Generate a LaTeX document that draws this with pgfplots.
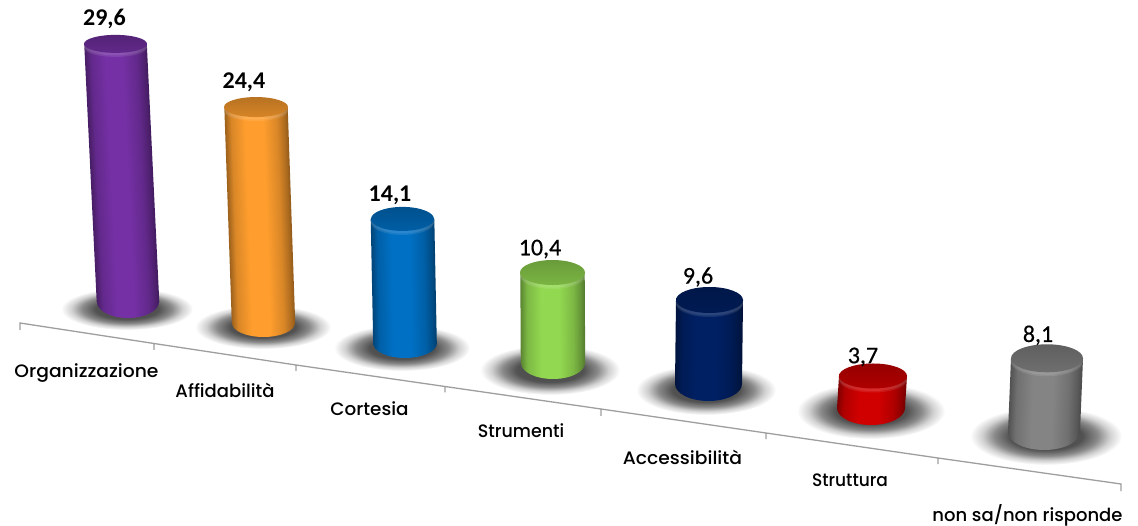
\documentclass[border=0pt]{standalone}
\usepackage{fontspec}
\usepackage{pgfplots}
\pgfplotsset{compat=1.18}
\newfontfamily\catfont{Poppins Medium}
\newfontfamily\valfont{Carlito}[BoldFont=Carlito Bold]
\newfontfamily\valmed{Carlito}[FakeBold=0.5]
\newcommand\catstyle{\catfont\fontsize{18}{18}\selectfont}

\definecolor{cPurple}{HTML}{7430A4}
\definecolor{cOrange}{HTML}{FF9E2E}
\definecolor{cBlue}{HTML}{0070C4}
\definecolor{cGreen}{HTML}{92D850}
\definecolor{cNavy}{HTML}{002064}
\definecolor{cRed}{HTML}{D00000}
\definecolor{cGray}{HTML}{848484}

% Soft floor shadow under a cylinder
\pgfdeclareradialshading{floorshadow}{\pgfpointorigin}{%
  color(0bp)=(black!72); color(12bp)=(black!68); color(17bp)=(black!46);
  color(21bp)=(black!18); color(25bp)=(white); color(50bp)=(white)}

% Horizontal shading across a cylinder
\newcommand\defbodyshading[2]{%
  \pgfdeclarehorizontalshading{#1}{100bp}{%
    color(0bp)=(#2!62!black); color(25bp)=(#2!62!black);
    color(30bp)=(#2!85!black); color(41bp)=(#2); color(55bp)=(#2);
    color(66bp)=(#2!85!black); color(72bp)=(#2!68!black);
    color(75bp)=(#2!56!black); color(100bp)=(#2!56!black)}}

% #1 name, #2 colour, #3 #4 foot radii, #5 #6 cap radii, #7 #8 shadow radii
\newcommand\defcylinder[8]{%
  \defbodyshading{body#1}{#2}%
  \pgfdeclareverticalshading{face#1}{100bp}{%
    color(0bp)=(#2!84!black); color(25bp)=(#2!84!black);
    color(75bp)=(#2!72!black); color(100bp)=(#2!72!black)}%
  \pgfdeclareplotmark{shadow#1}{%
    \shade[draw=none, shading=floorshadow] (0,0) ellipse [x radius=#7pt, y radius=#8pt];}%
  \pgfdeclareplotmark{foot#1}{%
    \shade[draw=none, shading=body#1] (0,0) ellipse [x radius=#3pt, y radius=#4pt];}%
  \pgfdeclareplotmark{cap#1}{%
    \fill[draw=none, white, opacity=.09] (0,-4pt) ellipse [x radius=#5pt, y radius=#6pt];
    \fill[draw=none, white, opacity=.09] (0,-2.5pt) ellipse [x radius=#5pt, y radius=#6pt];
    \shade[draw=none, shading=face#1] (0,0) ellipse [x radius=#5pt, y radius=#6pt];}%
}

\defcylinder{A}{cPurple}{31}{16}{31.5}{9}{66}{21}
\defcylinder{B}{cOrange}{31.5}{14}{32}{10}{68}{22}
\defcylinder{C}{cBlue}{32}{15}{31.5}{12}{68}{23}
\defcylinder{D}{cGreen}{32}{16}{32.5}{12.5}{70}{25}
\defcylinder{E}{cNavy}{33.5}{17}{33.5}{13}{70}{25}
\defcylinder{F}{cRed}{34}{17}{34}{12.5}{74}{28}
\defcylinder{G}{cGray}{36}{18}{36}{14}{76}{29}

% #1 name, #2 value, #3 value as printed, #4 #5 foot centre, #6 cap centre x,
% #7 height per unit, #8 #9 offset of the value label from the cap centre;
% \rfoot holds the half width, \valw the font of the value label.
% The body is an upright rectangle slanted as a whole, so that its shading leans
% with it; the slant pivots on the axis's y = 0.
\newcommand\cylinder[9]{%
  \pgfmathsetmacro\ytop{#5-#2*#7}%
  \pgfmathsetmacro\slant{(#6-#4)/(#5-\ytop)}%
  \pgfmathsetmacro\xm{#4+\slant*#5}%
  \pgfmathsetmacro\xa{\xm-\rfoot}\pgfmathsetmacro\xb{\xm+\rfoot}%
  \pgfmathsetmacro\lx{#6+#8}\pgfmathsetmacro\ly{\ytop+#9}%
  \addplot[only marks, mark=foot#1] coordinates {(#4,#5)};
  \edef\tmp{\noexpand\addplot[shading=body#1, draw=none, mark=none,
      transform canvas={xslant=\slant}] coordinates
    {(\xa,#5) (\xb,#5) (\xb,\ytop) (\xa,\ytop) (\xa,#5)};}\tmp
  \addplot[only marks, mark=cap#1] coordinates {(#6,\ytop)};
  \edef\tmp{\noexpand\node[font=\valw\noexpand\fontsize{24}{24}\noexpand\selectfont,
    text=black, inner sep=0pt] at (axis cs:\lx,\ly) {#3};}\tmp
}

\begin{document}
\begin{tikzpicture}
\useasboundingbox (0,0) rectangle (1138pt,526pt);
\begin{axis}[
  at={(0,0)}, anchor=south west,
  scale only axis, width=1138pt, height=526pt,
  xmin=0, xmax=1138, ymin=0, ymax=526, y dir=reverse,
  hide axis, clip=false, clip mode=individual,
]
  % floor shadows
  \addplot[only marks, mark=shadowA] coordinates {(127,309)};
  \addplot[only marks, mark=shadowB] coordinates {(263,327)};
  \addplot[only marks, mark=shadowC] coordinates {(402,348)};
  \addplot[only marks, mark=shadowD] coordinates {(550,370)};
  \addplot[only marks, mark=shadowE] coordinates {(706,390)};
  \addplot[only marks, mark=shadowF] coordinates {(871,411)};
  \addplot[only marks, mark=shadowG] coordinates {(1046,436)};

  % category axis with its tick marks
  \addplot[color=black!38, line width=1.3pt, mark=none] coordinates {
    (20,330) (20,323) (154,343.5) (154,350) (154,343.5)
    (296,365) (296,371) (296,365) (445,386.5) (445,392.5) (445,386.5)
    (601,409) (601,416) (601,409) (766,433) (766,439) (766,433)
    (938,458) (938,464) (938,458) (1121,484) (1121,491)};

  % bars
  \def\valw{\noexpand\valfont\noexpand\bfseries}
  \def\rfoot{31.3}
  \cylinder{A}{29.6}{29,6}{128}{302}{115.5}{8.72}{-11}{-25}
  \def\rfoot{31.7}
  \cylinder{B}{24.4}{24,4}{263.5}{323}{256}{8.85}{-12}{-25}
  \def\rfoot{31.8}
  \cylinder{C}{14.1}{14,1}{405}{343}{402.5}{8.8}{-12.5}{-24}
  \def\valw{\noexpand\valmed}
  \def\rfoot{32.2}
  \cylinder{D}{10.4}{10,4}{553}{363}{552.5}{8.7}{-12.5}{-23.5}
  \def\rfoot{33.5}
  \cylinder{E}{9.6}{9,6}{708.5}{384}{709.5}{8.75}{-11.5}{-23}
  \def\rfoot{34}
  \cylinder{F}{3.7}{3,7}{871}{408}{873}{8.65}{-10}{-19}
  \def\rfoot{36}
  \cylinder{G}{8.1}{8,1}{1044}{432}{1047}{9.1}{-9}{-23}

  % category names
  \node[font=\catstyle, inner sep=0pt] at (axis cs:86.5,373) {\scalebox{1.04}[1]{Organizzazione}};
  \node[font=\catstyle, inner sep=0pt] at (axis cs:225,390) {Affidabilità};
  \node[font=\catstyle, inner sep=0pt] at (axis cs:369.5,409) {\scalebox{1.02}[1]{Cortesia}};
  \node[font=\catstyle, inner sep=0pt] at (axis cs:521,431) {\scalebox{.97}[1]{Strumenti}};
  \node[font=\catstyle, inner sep=0pt] at (axis cs:682.5,457) {\scalebox{1.04}[1]{Accessibilità}};
  \node[font=\catstyle, inner sep=0pt] at (axis cs:850,480) {\scalebox{.945}[1]{Struttura}};
  \node[font=\catstyle, inner sep=0pt] at (axis cs:1027.5,515) {non sa/non risponde};
\end{axis}
\end{tikzpicture}
\end{document}
